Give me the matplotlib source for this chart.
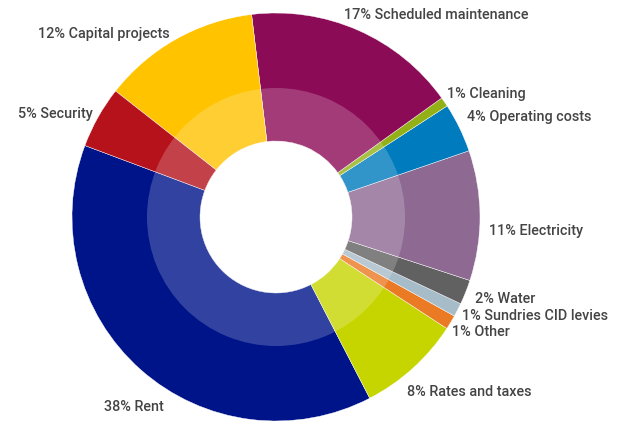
import matplotlib.pyplot as plt
from matplotlib.patches import Wedge

# slice data, counterclockwise starting with Rent
names = ["Rent", "Rates and taxes", "Other", "Sundries CID levies", "Water",
         "Electricity", "Operating costs", "Cleaning", "Scheduled maintenance",
         "Capital projects", "Security"]
shares = [38.3, 8.2, 1.14, 1.08, 1.95, 10.3, 3.9, 0.75, 17.0, 12.5, 4.9]
pct_labels = ["38%", "8%", "1%", "1%", "2%", "11%", "4%", "1%", "17%", "12%", "5%"]
colors = ["#001489", "#c6d500", "#ea7a24", "#a7bcc9", "#616161", "#8e6a93",
          "#007bbd", "#93b116", "#8b0b57", "#ffc300", "#b5121b"]

# label anchors in pixels of the 621x423 picture (x, y from top, alignment)
label_pos = [(104, 407, "left"), (407, 392, "left"), (452, 332, "left"),
             (462, 316, "left"), (475, 299, "left"), (489, 231, "left"),
             (467, 117, "left"), (447, 94, "left"), (344, 15, "left"),
             (170, 34, "right"), (93, 114, "right")]

cx, cy, R = 276, 217, 204  # pie centre and radius in pixels

fig = plt.figure(figsize=(6.21, 4.23), dpi=100)
ax = fig.add_axes([0, 0, 1, 1])

ax.pie(shares, radius=1, startangle=159.5, counterclock=True, colors=colors,
       wedgeprops=dict(width=1 - 76 / R, edgecolor="white", linewidth=0.3))
# lighter inner band
ax.add_patch(Wedge((0, 0), 129 / R, 0, 360, width=(129 - 76) / R,
                   facecolor="white", alpha=0.2, linewidth=0))

for name, pct, (px, py, ha) in zip(names, pct_labels, label_pos):
    ax.text((px - cx) / R, (cy - py) / R, pct + " " + name, ha=ha, va="center",
            fontsize=10.4, fontfamily="Roboto", fontweight="medium", color="#444444")

ax.set_xlim(-cx / R, (621 - cx) / R)
ax.set_ylim((cy - 423) / R, cy / R)
ax.set_aspect("equal")
ax.axis("off")

fig.savefig("out.png", dpi=100)
